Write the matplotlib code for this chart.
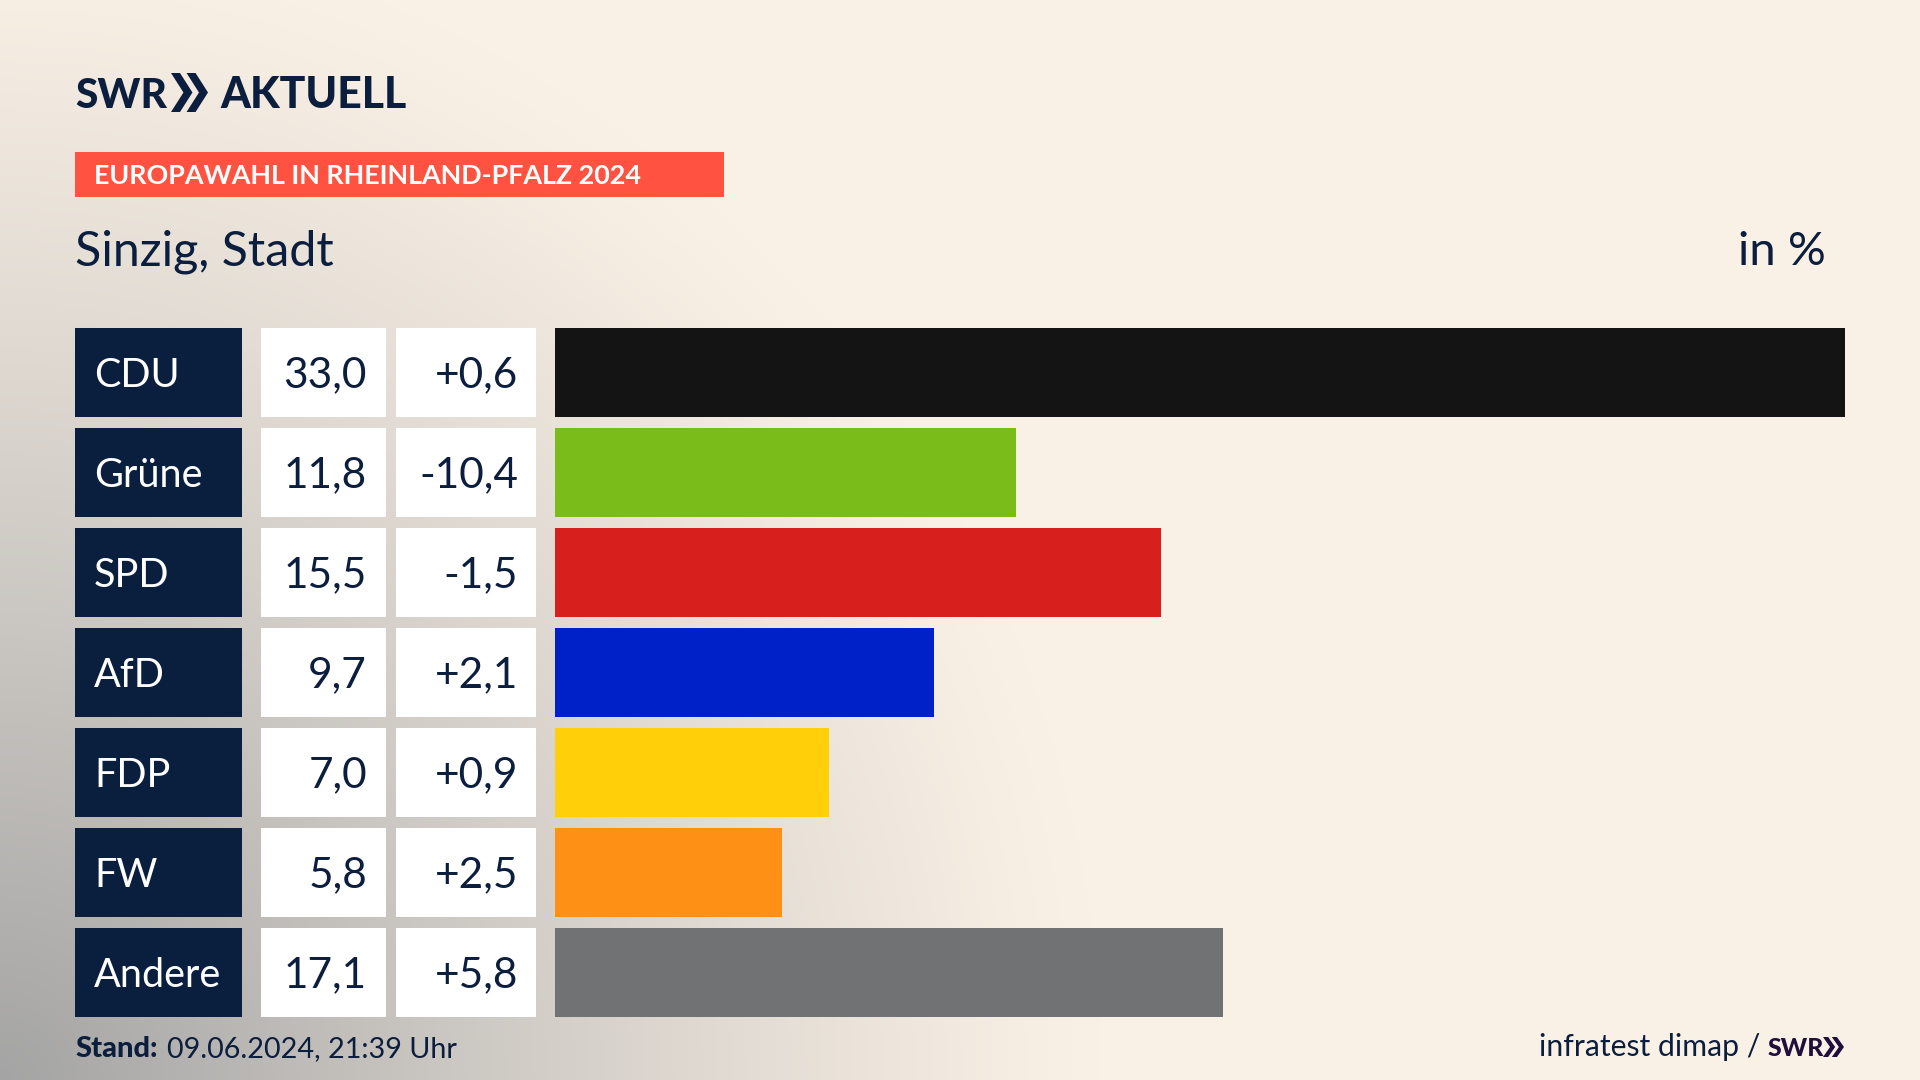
import numpy as np
import matplotlib
matplotlib.use("Agg")
import matplotlib.pyplot as plt
from matplotlib.patches import Rectangle, Polygon

parties = ["CDU", "Grüne", "SPD", "AfD", "FDP", "FW", "Andere"]
values = [33.0, 11.8, 15.5, 9.7, 7.0, 5.8, 17.1]
changes = ["+0,6", "-10,4", "-1,5", "+2,1", "+0,9", "+2,5", "+5,8"]
bar_colors = ["#141414", "#7ABD1A", "#D7201D", "#0020C8", "#FFD00A", "#FF9016", "#707274"]

NAVY = "#0B1E3D"
plt.rcParams["font.family"] = ["Lato", "DejaVu Sans"]

W, H = 1920, 1080
fig = plt.figure(figsize=(W / 100, H / 100), dpi=100)

# full figure axes in pixel coordinates for background, boxes and text
ax = fig.add_axes([0, 0, 1, 1])
ax.set_xlim(0, W)
ax.set_ylim(H, 0)
ax.axis("off")

# background: cream fading to grey towards the bottom left corner
xx, yy = np.meshgrid(np.arange(0, W, 4), np.arange(0, H, 4))
dist = np.sqrt((xx / 1100) ** 2 + ((H - yy) / 1150) ** 2)
t = (np.clip(1 - dist, 0, 1) ** 1.15)[..., None]
cream = np.array([250, 241, 230]) / 255
grey = np.array([164, 164, 164]) / 255
ax.imshow(cream * (1 - t) + grey * t, extent=[0, W, H, 0], aspect="auto", zorder=0)


def chevrons(x, top, w, h, color):
    # two right pointing arrow heads next to each other
    cw = w * 0.58
    nick = cw * 0.42
    for off in (0, w - cw):
        pts = [(x + off, top), (x + off + nick, top), (x + off + cw, top + h / 2),
               (x + off + nick, top + h), (x + off, top + h), (x + off + cw - nick, top + h / 2)]
        ax.add_patch(Polygon(pts, closed=True, fc=color, ec="none", zorder=3))


# header
ax.text(75, 108, "SWR", fontsize=29.3, fontweight="black", color=NAVY, va="baseline", ha="left")
chevrons(171, 73, 37, 39, NAVY)
ax.text(220, 108, "AKTUELL", fontsize=30.8, fontweight="black", color=NAVY, va="baseline", ha="left")

ax.add_patch(Rectangle((75, 152), 649, 45, fc="#FF5240", ec="none", zorder=2))
ax.text(94, 184, "EUROPAWAHL IN RHEINLAND-PFALZ 2024", fontsize=19.4, fontweight="bold",
        color="white", va="baseline", ha="left", zorder=3)
ax.text(75, 265, "Sinzig, Stadt", fontsize=34.8, color=NAVY, va="baseline", ha="left")
ax.text(1826, 265, "in %", fontsize=34, color=NAVY, va="baseline", ha="right")

# table columns left of the bars
row_top = 328
row_step = 100
row_h = 88.7
for i, party in enumerate(parties):
    top = row_top + i * row_step
    base = top + row_h / 2 + 15
    ax.add_patch(Rectangle((75, top), 167, row_h, fc="#0A1F3E", ec="none", zorder=2))
    ax.add_patch(Rectangle((261, top), 125, row_h, fc="white", ec="none", zorder=2))
    ax.add_patch(Rectangle((396, top), 140, row_h, fc="white", ec="none", zorder=2))
    ax.text(94, base, party, fontsize=28.5, color="white", va="baseline", ha="left", zorder=3)
    ax.text(367, base, f"{values[i]:.1f}".replace(".", ","), fontsize=30.5, color=NAVY,
            va="baseline", ha="right", zorder=3)
    ax.text(518, base, changes[i], fontsize=30.5, color=NAVY, va="baseline", ha="right", zorder=3)

# footer
ax.text(75, 1057, "Stand:", fontsize=21, fontweight="black", color=NAVY, va="baseline", ha="left")
ax.text(167, 1057, "09.06.2024, 21:39 Uhr", fontsize=20.7, color=NAVY, va="baseline", ha="left")
ax.text(1760, 1056, "infratest dimap /", fontsize=21.7, color=NAVY, va="baseline", ha="right")
ax.text(1768, 1056, "SWR", fontsize=18, fontweight="black", color="#1E0F3C", va="baseline", ha="left")
chevrons(1823, 1037, 21, 20, "#1E0F3C")

# bars, 33 percent fills the whole width
bx = fig.add_axes([555 / W, 1 - 1016.7 / H, 1290 / W, 688.7 / H])
bx.patch.set_alpha(0)
bx.barh(range(len(parties)), values, height=0.887, color=bar_colors)
bx.set_xlim(0, 33)
bx.set_ylim(6.4435, -0.4435)
bx.axis("off")

fig.savefig("out.png", dpi=100)
